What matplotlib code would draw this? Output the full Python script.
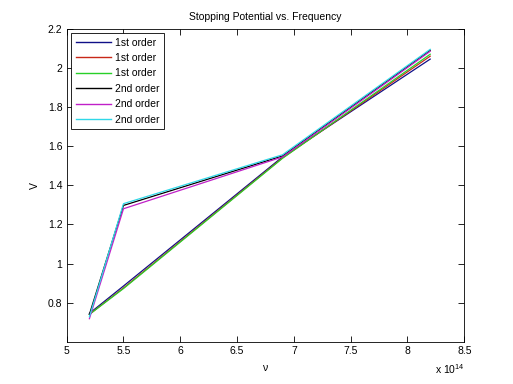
import matplotlib
matplotlib.use("Agg")
import matplotlib.pyplot as plt
from matplotlib.ticker import FuncFormatter, FixedLocator

plt.rcParams['font.family'] = ['Liberation Sans', 'DejaVu Sans']
plt.rcParams['mathtext.fontset'] = 'custom'
plt.rcParams['mathtext.rm'] = 'Liberation Sans'
plt.rcParams['mathtext.default'] = 'regular'

# frequencies (Hz)
freq = [5.2e14, 5.5e14, 6.9e14, 8.2e14]

# stopping potentials (V)
first_a = [0.745, 0.885, 1.545, 2.045]
first_b = [0.740, 0.875, 1.540, 2.060]
first_c = [0.740, 0.872, 1.538, 2.070]
second_a = [0.740, 1.297, 1.550, 2.090]
second_b = [0.718, 1.280, 1.545, 2.085]
second_c = [0.728, 1.306, 1.556, 2.095]

series = [first_a, first_b, first_c, second_a, second_b, second_c]
labels = ["1st order", "1st order", "1st order", "2nd order", "2nd order", "2nd order"]
colors = ["#101088", "#c82818", "#28d028", "#000000", "#c020c8", "#30d8e8"]

fig = plt.figure(figsize=(5.13, 3.84), dpi=100)
ax = fig.add_axes([0.13, 0.11, 0.775, 0.815])

for vals, lab, col in zip(series, labels, colors):
    ax.plot(freq, vals, color=col, lw=0.9, label=lab)

ax.set_xlim(5e14, 8.5e14)
ax.set_ylim(0.6, 2.2)
ax.xaxis.set_major_locator(FixedLocator([5e14 + 0.5e14 * i for i in range(8)]))
ax.yaxis.set_major_locator(FixedLocator([0.8, 1.0, 1.2, 1.4, 1.6, 1.8, 2.0, 2.2]))
ax.xaxis.set_major_formatter(FuncFormatter(lambda v, p: '%g' % round(v / 1e14, 2)))
ax.yaxis.set_major_formatter(FuncFormatter(lambda v, p: '%g' % round(v, 2)))

ax.tick_params(direction='in', length=4, width=0.6, labelsize=7.5,
               top=True, right=True, pad=3)
for sp in ax.spines.values():
    sp.set_linewidth(0.6)

ax.set_title('Stopping Potential vs. Frequency', fontsize=7.5, pad=6)
ax.set_xlabel('\u03bd', fontsize=7.5, labelpad=5)
ax.set_ylabel('V', fontsize=7.5, labelpad=6)

ax.text(1.0, -0.065, r'x 10$^{14}$', transform=ax.transAxes,
        ha='right', va='top', fontsize=7.5)

leg = ax.legend(loc='upper left', fontsize=7.5, frameon=True, fancybox=False,
                edgecolor='black', framealpha=1, handlelength=3.4,
                handletextpad=0.4, labelspacing=0.52, borderpad=0.45,
                borderaxespad=0.4)
leg.get_frame().set_linewidth(0.6)
for line in leg.get_lines():
    line.set_linewidth(1.0)

fig.savefig('out.png', dpi=100)
